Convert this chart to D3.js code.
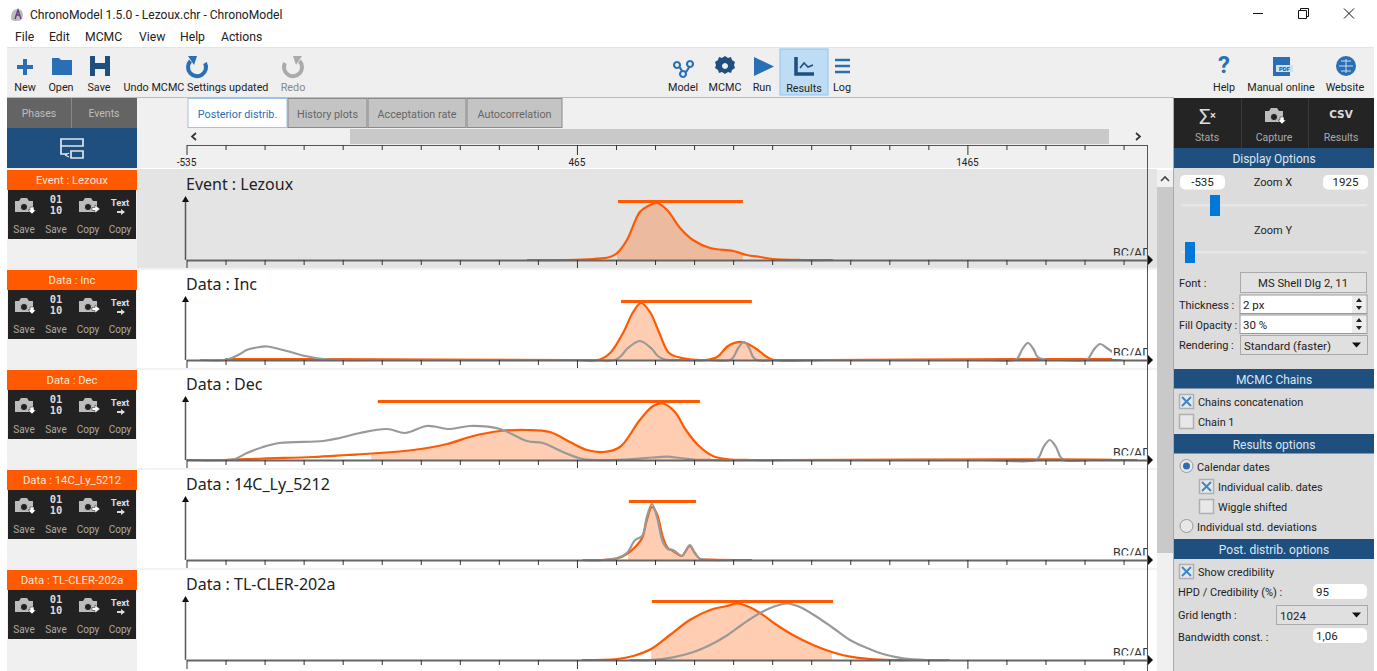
<!DOCTYPE html>
<html><head><meta charset="utf-8">
<script src="https://cdnjs.cloudflare.com/ajax/libs/d3/7.8.5/d3.min.js"></script>
<style>html,body{margin:0;padding:0;background:#fff;overflow:hidden}svg{display:block}text{font-family:Roboto,sans-serif}</style>
</head><body><svg id="c" width="1377" height="671"></svg>
<script>
// ---------- data (year AD/BC, relative density) ----------
const xDomain = [-535, 1925];
const tickStart = -535, tickStep = 100, majorEvery = 10;
const majorLabels = [-535, 465, 1465];
const panelTitles = ["Event : Lezoux","Data : Inc","Data : Dec","Data : 14C_Ly_5212","Data : TL-CLER-202a"];

const lezouxYears = [337,440,506,550,568,593,626,647,670,696,729,762,806,865,900,934,967,1040,1121];
const lezouxPost  = [0,0,1,3,7,20,48,54,57,50,32,20,12,9,5,3,1,0,0];
const lezouxHpdFill = [[568,890]];
const lezouxBar = [570,890];

const incYears = [-436,-185,460,519,550,583,609,629,652,676,701,734,793,824,852,888,921,952,970,1100,1587,1664,1769,1858];
const incPost  = [0.8,0.8,0,0,7,27,48,57,48,27,7,2,0,3,14,18,12,3,0,0,0.8,0.8,0.8,0.8];
const incHpdFill = [[529,716],[824,959]];
const incBar = [578,913];
const incCalibYears = [-500,-436,-419,-398,-381,-355,-329,-278,-237,-185,-134,-60,500,562,578,593,626,657,672,690,730,800,857,866,878,893,906,916,926,980,1500,1587,1595,1606,1620,1634,1645,1664,1700,1769,1776,1790,1805,1822,1843,1858];
const incCalib = [0,0,2,6,10,12.5,13.5,9,4.5,1,0,0,0,0,4,11,19,11,4,0.5,0,0,0,3,12,18,12,3,0,0,0,0,2.5,11,17,11,3,0.5,0,0,2,11,16,12,6,0];

const decYears = [-535,-441,-339,-211,-124,-60,45,132,199,268,337,396,447,491,532,575,626,660,685,716,744,775,813,852,911,1000,1640,1690,1900];
const decPost  = [0,0,1.5,3,5,6.5,10,16,24,29,30,28,18,10,8,13,40,54,56.5,48,30,15,4,0.7,0,0,0.7,0.7,0];
const decHpdFill = [[-62,808]];
const decBar = [-45,780];
const decCalibYears = [-500,-430,-411,-380,-339,-296,-185,-142,-91,-21,25,81,140,191,268,337,378,429,480,557,660,696,729,765,813,900,1500,1641,1650,1660,1676,1692,1702,1712,1780];
const decCalib = [0,0,1,7,13,17,19,22,27,31,27,34,31,34,31,19,17,8,1,0,2.5,3.3,2,0.5,0,0,0,0,4,13,20,13,4,0,0];

const c14Years = [480,532,568,593,614,632,644,657,670,685,698,711,734,742,754,767,780,806,913];
const c14Post  = [0,0,1.5,6,13,22,40,53,46,23,12,9,4,8,14,7,1,0.5,0];
const c14HpdFill = [[596,772]];
const c14Bar = [598,770];
const c14CalibYears = [480,532,568,593,614,632,644,657,670,685,698,711,734,742,754,767,780,806,860];
const c14Calib = [0,0,2,7,20,24,43,56,43,18,11,10,4,8,15,7,1,0,0];

const tlYears = [478,568,609,655,703,754,806,849,877,900,934,977,1018,1070,1118,1164,1215,1274,1326];
const tlPost  = [0,1,4,11,25,40,50,54,56.5,54,47,35,25,15,8,3.3,1,0,0];
const tlHpdFill = [[655,1118]];
const tlBar = [657,1121];
const tlCalibYears = [600,652,711,762,806,849,890,934,967,1003,1036,1080,1121,1164,1208,1249,1300,1361,1420];
const tlCalib = [0,0,2.7,7.7,15,24.5,36,47,53,56.5,53,43,32,20,12,6,1.7,0,0];

const panelSeries = [
 {y:lezouxYears,v:lezouxPost,f:lezouxHpdFill,b:lezouxBar,cy:[],cv:[]},
 {y:incYears,v:incPost,f:incHpdFill,b:incBar,cy:incCalibYears,cv:incCalib},
 {y:decYears,v:decPost,f:decHpdFill,b:decBar,cy:decCalibYears,cv:decCalib},
 {y:c14Years,v:c14Post,f:c14HpdFill,b:c14Bar,cy:c14CalibYears,cv:c14Calib},
 {y:tlYears,v:tlPost,f:tlHpdFill,b:tlBar,cy:tlCalibYears,cv:tlCalib}
];

// ---------- helpers ----------
const svg = d3.select("#c");
const ORANGE="#ff5a00", BLUE="#1e4f7f", ICON="#2a6fb5", GREY="#999999";
function R(p,x,y,w,h,f,o={}){const r=p.append("rect").attr("x",x).attr("y",y).attr("width",w).attr("height",h).attr("fill",f);for(const k in o)r.attr(k,o[k]);return r;}
function T(p,x,y,s,o={}){const t=p.append("text").attr("x",x).attr("y",y).text(s).attr("font-size",o.size||11).attr("fill",o.fill||"#222").attr("text-anchor",o.anchor||"start");if(o.family)t.style("font-family",o.family);if(o.weight)t.attr("font-weight",o.weight);return t;}
function P(p,d,f,o={}){const e=p.append("path").attr("d",d).attr("fill",f);for(const k in o)e.attr(k,o[k]);return e;}
const root=svg.append("g");

// ---------- window chrome ----------
R(root,0,0,1377,671,"#fff");
P(root,"M11 19 Q11 9 17 9 Q23 9 23 15 Q23 21 17 21 Q12 21 11 19Z","#bbb");
P(root,"M15 19 L18 10 L21 19 M16 15 L20 15","none",{stroke:"#6a3a8a","stroke-width":1.4});
T(root,30,19,"ChronoModel 1.5.0 - Lezoux.chr - ChronoModel",{size:12.1});
[["File",15],["Edit",49],["MCMC",85],["View",139],["Help",180],["Actions",221]].forEach(d=>T(root,d[1],41,d[0],{size:12.2}));
P(root,"M1253 13.5H1263","none",{stroke:"#111"});
P(root,"M1298.5 10.5h8v8h-8z M1300.5 10.5v-2h8v8h-2","none",{stroke:"#111"});
P(root,"M1344 8.5l10 10M1354 8.5l-10 10","none",{stroke:"#111"});

// ---------- toolbar ----------
R(root,7,48,1367,50,"#efefef");
R(root,7,47,1367,1,"#e4e4e4");
R(root,7,97,1167,1,"#bbb");
R(root,780,49,48,46,"#bfdcf5",{stroke:"#8cc4f0"});
const tbLabels=[["New",25],["Open",61],["Save",99],["Undo MCMC Settings updated",196],["Redo",293,"#888"],["Model",683],["MCMC",725],["Run",762],["Results",804],["Log",842],["Help",1224],["Manual online",1281],["Website",1345]];
tbLabels.forEach(d=>T(root,d[1],d[0]=="Results"?92:91,d[0],{anchor:"middle",fill:d[2]||"#222",size:10.8}));
P(root,"M23 59h4v6h6v4h-6v6h-4v-6h-6v-4h6z",ICON);
P(root,"M52 58h7l2 2h11v15h-20z",ICON);
P(root,"M90 56h20v20h-20z M95 56v7h10v-7z M95 69v7h10v-7z",BLUE,{"fill-rule":"evenodd"});
function undo(x,c,flip){const g=root.append("g").attr("transform",`translate(${x},66)${flip?" scale(-1,1)":""}`);P(g,"M-6.5 -5 A9 9 0 1 0 8 -3","none",{stroke:c,"stroke-width":4});P(g,"M-9 -10 L0 -10 L-3 -1 Z",c);}
undo(197,ICON,false);undo(293,"#aaa",true);
P(root,"M677 62a3 3 0 1 0 .01 0 M690 61a3 3 0 1 0 .01 0 M683 71a3 3 0 1 0 .01 0 M679 66l3 5 M690 66l-4 6","none",{stroke:ICON,"stroke-width":2.2});
P(root,"M725 56l3 2 3-1 1 3 3 2-1 3 1 3-3 2-1 3-3-1-3 2-3-2-3 1-1-3-3-2 1-3-1-3 3-2 1-3 3 1z M725 63a3 3 0 1 0 .01 0",BLUE,{"fill-rule":"evenodd"});
P(root,"M754 57L774 66.5L754 76Z",ICON);
P(root,"M796 57v17h18","none",{stroke:BLUE,"stroke-width":3.5});
P(root,"M800 68l4-5 4 4 5-2","none",{stroke:BLUE,"stroke-width":1.6});
P(root,"M835 60h15 M835 66h15 M835 72h15","none",{stroke:ICON,"stroke-width":2.6});
T(root,1224,73,"?",{anchor:"middle",size:24,fill:ICON,weight:"bold"});
R(root,1273,57,17,19,ICON);R(root,1276,65,17,7,"#cfe0f0");
T(root,1284.5,71,"PDF",{anchor:"middle",size:6,fill:BLUE,weight:"bold"});
root.append("circle").attr("cx",1346).attr("cy",66).attr("r",10).attr("fill",ICON);
P(root,"M1339 66h14 M1346 59v14 M1341 61h10 M1341 71h10","none",{stroke:"#cde","stroke-width":1});

// ---------- left tabs ----------
R(root,7,98,130,30,"#646464");
R(root,71,98,1,30,"#888");
T(root,39,117,"Phases",{anchor:"middle",size:10.5,fill:"#bdbdbd"});
T(root,104,117,"Events",{anchor:"middle",size:10.5,fill:"#bdbdbd"});
R(root,7,128,130,40,BLUE);
P(root,"M61 139h22v7h-22z M61 146v8h6 M71 151h12v7h-12z","none",{stroke:"#dfe7ef","stroke-width":1.7});
P(root,"M65 155l4 -2 M65 155l4 2","none",{stroke:"#dfe7ef","stroke-width":1.3});
R(root,137,98,1037,30,"#f0f0f0");
R(root,137,128,1037,40,"#f0f0f0");
R(root,7,168,130,503,"#f0f0f0");

// ---------- result tabs ----------
const tabs=[["Posterior distrib.",188,99],["History plots",288,79],["Acceptation rate",368,98],["Autocorrelation",467,95]];
tabs.forEach((d,i)=>{
 R(root,d[1],98.5,d[2],29,i?"#c4c4c4":"#fff",{stroke:i?"#8a8a8a":"#9cc3e8"});
 T(root,d[1]+d[2]/2,118,d[0],{anchor:"middle",size:10.8,fill:i?"#666":"#2a6fb5"});
});

// ---------- scale ----------
const x=d3.scaleLinear().domain(xDomain).range([186.5,1147]);
const tickVals=d3.range(tickStart,xDomain[1]+1,tickStep);
const isMajor=v=>((v-tickStart)/tickStep)%majorEvery===0;
P(root,"M196 133l-4 3.5 4 3.5","none",{stroke:"#333","stroke-width":1.7});
R(root,350,129,759,15,"#c9c9c9");
P(root,"M1136 133l4 3.5-4 3.5","none",{stroke:"#333","stroke-width":1.7});

function drawAxis(g,y,major,minor,lineColor,lineW){
 const ax=g.append("g").attr("transform",`translate(0,${y})`).call(d3.axisBottom(x).tickValues(tickVals).tickFormat("").tickSize(minor).tickSizeOuter(0));
 ax.select(".domain").attr("stroke",lineColor).attr("stroke-width",lineW);
 ax.selectAll(".tick line").attr("stroke","#333").attr("y2",d=>isMajor(d)?major:minor);
 return ax;
}
drawAxis(root,145,10,5,"#555",1);
majorLabels.forEach(v=>T(root,x(v),166,String(v),{anchor:"middle",size:10,fill:"#222"}));

// ---------- panels ----------
const panelTop=170, panelH=100;
const yS=d3.scaleLinear().domain([0,57]).range([0,-57]);
const curve=d3.curveCatmullRom.alpha(0.5);
const line=d3.line().x(d=>x(d[0])).y(d=>yS(d[1])).curve(curve);
const area=d3.area().x(d=>x(d[0])).y0(0).y1(d=>yS(d[1])).curve(curve);
const defs=svg.append("defs");

R(root,137,168,1020,503,"#fff");
function camera(g,cx,cy,type){
 P(g,`M${cx-9} ${cy-5}h4l2-3h6l2 3h4v11h-18z`,"#bdbdbd");
 g.append("circle").attr("cx",cx).attr("cy",cy+1).attr("r",3.6).attr("fill","#222").attr("stroke","#bdbdbd");
 if(type=="down")P(g,`M${cx+6} ${cy+1}h4v3h2l-4 4-4-4h2z`,"#fff",{stroke:"#222","stroke-width":.5});
 else P(g,`M${cx+4} ${cy+1.5}h3v-2.5l5 4-5 4v-2.5h-3z`,"#fff",{stroke:"#222","stroke-width":.5});
}
panelTitles.forEach((title,i)=>{
 const top=panelTop+i*panelH, base=top+90;
 const s=panelSeries[i];
 const bg=i==0?"#e4e4e4":"#fff";
 const g=root.append("g");
 R(g,137,top-1,1020,99,bg);
 if(i>0)R(g,137,top-2,1020,2,"#f2f2f2");
 // left header
 R(g,7,top,130,20,ORANGE);
 T(g,72,top+14,title,{anchor:"middle",size:11.3,fill:"#f4e8df"});
 R(g,8,top+20,128,49,"#222");
 camera(g,24,top+36,"down");
 T(g,56,top+33,"01",{anchor:"middle",size:10.5,fill:"#ddd",weight:"bold",family:"'DejaVu Sans Mono'"});
 T(g,56,top+44,"10",{anchor:"middle",size:10.5,fill:"#ddd",weight:"bold",family:"'DejaVu Sans Mono'"});
 camera(g,88,top+36,"right");
 T(g,120,top+36,"Text",{anchor:"middle",size:9.5,fill:"#ddd",weight:"bold"});
 P(g,`M117 ${top+41}h4v-2l4 3-4 3v-2h-4z`,"#ddd");
 [["Save",24],["Save",56],["Copy",88],["Copy",120]].forEach(d=>T(g,d[1],top+63,d[0],{anchor:"middle",size:10,fill:"#aaa"}));
 // title
 T(g,186,top+20,title,{size:16,fill:"#222",family:"'Noto Sans'"});
 // clip fills to HPD ranges
 const post=d3.zip(s.y,s.v), calib=d3.zip(s.cy,s.cv);
 const pg=g.append("g").attr("transform",`translate(0,${base})`);
 s.f.forEach((f,j)=>{
  const id=`cl${i}_${j}`;
  const cp=defs.append("clipPath").attr("id",id);
  cp.append("rect").attr("x",x(f[0])).attr("y",-70).attr("width",x(f[1])-x(f[0])).attr("height",70);
  pg.append("path").datum(post).attr("d",area).attr("fill",ORANGE).attr("fill-opacity",.3).attr("clip-path",`url(#${id})`);
 });
 pg.append("path").datum(post).attr("d",line).attr("fill","none").attr("stroke",ORANGE).attr("stroke-width",2.2);
 if(calib.length)pg.append("path").datum(calib).attr("d",line).attr("fill","none").attr("stroke",GREY).attr("stroke-width",2.2);
 // HPD bar
 pg.append("line").attr("x1",x(s.b[0])).attr("x2",x(s.b[1])).attr("y1",-58.5).attr("y2",-58.5).attr("stroke",ORANGE).attr("stroke-width",3);
 // BC/AD label (cut by the axis)
 const cid=`bc${i}`;
 R(g,1112,base-15,35,14,bg);
 defs.append("clipPath").attr("id",cid).append("rect").attr("x",1110).attr("y",base-15).attr("width",37).attr("height",10.5);
 T(g,1113,base-3,"BC/AD",{size:12.5,fill:"#333"}).attr("clip-path",`url(#${cid})`);
 // axes
 drawAxis(g,base,9,5,"#666",2);
 P(g,`M185.5 ${base}V${base-60}`,"none",{stroke:"#555","stroke-width":1.5});
 P(g,`M182 ${base-58}L185.5 ${base-64}L189 ${base-58}Z`,"#111");
 P(g,`M1148 ${base-5}L1153 ${base}L1148 ${base+5}Z`,"#111");
});

// red end line
P(root,"M1147.5 145V671","none",{stroke:"#f01020","stroke-width":1});
// vertical scrollbar
R(root,1157,170,16,501,"#f0f0f0");
R(root,1157,187,16,366,"#c9c9c9");
P(root,"M1161 181l4-4 4 4","none",{stroke:"#444","stroke-width":1.6});
R(root,1173,98,1,573,"#aaa");

// ---------- right panel ----------
R(root,1174,98,200,50,"#242424");
R(root,1241,98,1,50,"#3a3a3a");R(root,1308,98,1,50,"#3a3a3a");
T(root,1205,124,"Σ",{anchor:"middle",size:21,fill:"#ddd"});
T(root,1213,119,"×",{anchor:"middle",size:11,fill:"#ddd",weight:"bold"});
camera(root,1274,116,"down");
T(root,1341,118,"CSV",{anchor:"middle",size:10.5,fill:"#ddd",weight:"bold",family:"'DejaVu Sans'"});
[["Stats",1207],["Capture",1274],["Results",1341]].forEach(d=>T(root,d[1],141,d[0],{anchor:"middle",size:10.5,fill:"#aaa"}));
R(root,1174,168,200,503,"#dcdcdc");
function bar(y,h,t){R(root,1174,y,200,h,BLUE);T(root,1274,y+h-5,t,{anchor:"middle",size:12,fill:"#dde7f0"});}
bar(148,20,"Display Options");bar(369,19.5,"MCMC Chains");bar(434,19.5,"Results options");bar(539,20,"Post. distrib. options");
function input(x0,y,w,h,t,a){R(root,x0,y,w,h,"#fff",{rx:5});T(root,a=="middle"?x0+w/2:x0+3,y+h-3.5,t,{anchor:a||"start",size:11.5});}
input(1180,175,45,14.5,"-535","middle");input(1323,175,45,14.5,"1925","middle");
T(root,1273,186,"Zoom X",{anchor:"middle",size:11});
T(root,1273,234,"Zoom Y",{anchor:"middle",size:11});
R(root,1181,204,186,2.5,"#e6e6e6");R(root,1210,195,10,21,"#0078d7");
R(root,1181,251,186,2.5,"#e6e6e6");R(root,1185,242,10,21,"#0078d7");
T(root,1179,287,"Font :");R(root,1240.5,272.5,126,20,"#e2e2e2",{stroke:"#aaa"});
T(root,1303,287,"MS Shell Dlg 2, 11",{anchor:"middle",size:11.3});
T(root,1179,309,"Thickness :");T(root,1179,329,"Fill Opacity :",{size:10.8});T(root,1179,349,"Rendering :");
[[295,"2 px"],[315,"30 %"]].forEach(d=>{
 R(root,1240,d[0],127,18.5,"#fff",{stroke:"#999"});T(root,1243,d[0]+14,d[1],{size:11.5});
 R(root,1352,d[0]+1,14,17,"#ededed");
 P(root,`M1356 ${d[0]+7}l3-4 3 4z M1356 ${d[0]+11}l3 4 3-4z`,"#222");
});
function combo(x0,y,w,h,t){R(root,x0+.5,y+.5,w,h,"#e0e0e0",{stroke:"#aaa"});T(root,x0+4,y+h-4.5,t,{size:11.5});P(root,`M${x0+w-15} ${y+h/2-2}h9l-4.5 5z`,"#111");}
combo(1240,335,127,19,"Standard (faster)");
function check(x0,y,on,t,tx){R(root,x0+.5,y+.5,14,14,"#e8e8e8",{stroke:"#b0b0b0","stroke-width":1.5});
 if(on)P(root,`M${x0+3} ${y+3}l9 9M${x0+12} ${y+3}l-9 9`,"none",{stroke:"#3f86c9","stroke-width":2});
 T(root,tx,y+12,t,{size:10.9});}
check(1179,394,true,"Chains concatenation",1198);
check(1179,414,false,"Chain 1",1198);
check(1199,479,true,"Individual calib. dates",1218);
check(1199,499,false,"Wiggle shifted",1218);
check(1179,564,true,"Show credibility",1198);
function radio(cy,on,t){root.append("circle").attr("cx",1186.5).attr("cy",cy).attr("r",6.5).attr("fill","#e8e8e8").attr("stroke","#999");
 if(on)root.append("circle").attr("cx",1186.5).attr("cy",cy).attr("r",3.5).attr("fill","#2a6fb5");
 T(root,1197,cy+4.5,t,{size:10.9});}
radio(466,true,"Calendar dates");radio(526,false,"Individual std. deviations");
T(root,1178,596,"HPD / Credibility (%) :");input(1313,584,54,15,"95");
T(root,1178,619,"Grid length :");combo(1276,605,91,19,"1024");
T(root,1178,641,"Bandwidth const. :");input(1313,628,54,15,"1,06");
</script></body></html>
